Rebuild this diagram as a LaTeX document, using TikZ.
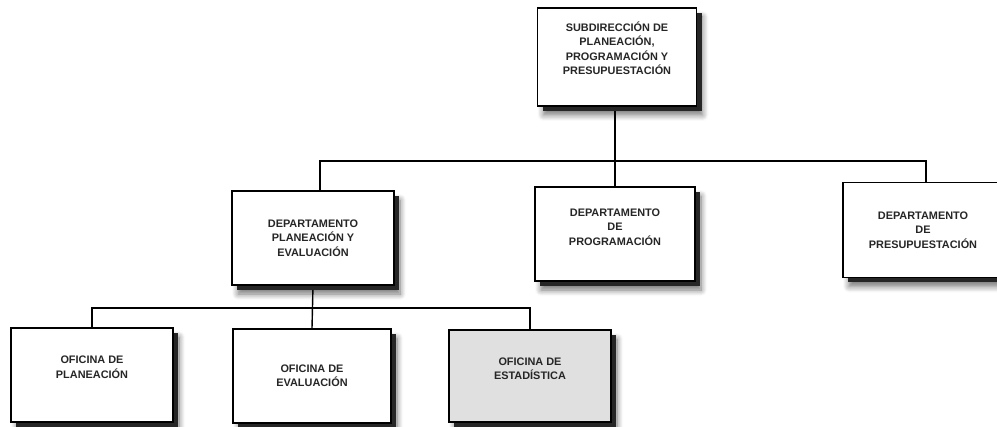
\documentclass[tikz,border=0pt]{standalone}
\usepackage{fontspec}
\setmainfont{Liberation Sans}
\usetikzlibrary{shadows,shadows.blur,backgrounds}

\definecolor{estgray}{RGB}{224,224,224}

\tikzset{
  unit/.style={draw, line width=1.5pt, fill=white, inner sep=0pt,
    minimum width=160pt, minimum height=95pt,
    blur shadow={shadow xshift=6pt, shadow yshift=-9pt, shadow blur radius=6pt, shadow blur steps=8, shadow opacity=55},
    drop shadow={shadow xshift=5pt, shadow yshift=-5pt, fill=black!85, opacity=1}},
  unittext/.style={align=center, font=\fontsize{10.9}{14.5}\selectfont\bfseries, text=black!85},
  link/.style={line width=1.4pt}
}

\begin{document}
\begin{tikzpicture}[x=1pt,y=-1pt]
\useasboundingbox (0,0) rectangle (997,427);

% subdireccion
\node[unit, minimum width=159pt, minimum height=98pt] (sub) at (617,57) {};
\node[unittext] (subt) at ([yshift=9pt]sub.center)
  {SUBDIRECCIÓN DE\\PLANEACIÓN,\\PROGRAMACIÓN Y\\PRESUPUESTACIÓN};

% departamentos
\node[unit, minimum width=162pt, minimum height=94pt] (dpe) at (313,238) {};
\node[unittext] (dpet) at (dpe.center) {DEPARTAMENTO\\PLANEACIÓN Y\\EVALUACIÓN};

\node[unit, minimum height=94pt] (dpr) at (615,234) {};
\node[unittext] (dprt) at ([yshift=7pt]dpr.center) {DEPARTAMENTO\\DE\\PROGRAMACIÓN};

\node[unit, minimum width=166pt] (dpp) at (926,230) {};
\node[unittext] (dppt) at ([xshift=-3pt]dpp.center) {DEPARTAMENTO\\DE\\PRESUPUESTACIÓN};

% oficinas
\node[unit, minimum width=162pt, minimum height=94pt] (ofp) at (92,375) {};
\node[unittext] (ofpt) at ([yshift=8pt]ofp.center) {OFICINA DE\\PLANEACIÓN};

\node[unit, minimum width=158pt, minimum height=94pt] (ofe) at (312,376) {};
\node[unittext] (ofet) at (ofe.center) {OFICINA DE\\EVALUACIÓN};

\node[unit, fill=estgray, minimum width=162pt, minimum height=92pt] (ofs) at (530,376) {};
\node[unittext] (ofst) at ([yshift=7pt]ofs.center) {OFICINA DE\\ESTADÍSTICA};

% lineas de mando
\coordinate (bus1) at (615,161);
\coordinate (bus2) at (312,308);
\begin{scope}[on background layer]
\draw[link] (bus1 |- sub.south) -- (dpr.north);
\draw[link] ([xshift=7pt]dpe.north) |- (bus1) -| (dpp.north);
\draw[link] (dpe.south) -- (ofe.north);
\draw[link] (ofp.north) |- (bus2) -| (ofs.north);
\end{scope}

\end{tikzpicture}
\end{document}
